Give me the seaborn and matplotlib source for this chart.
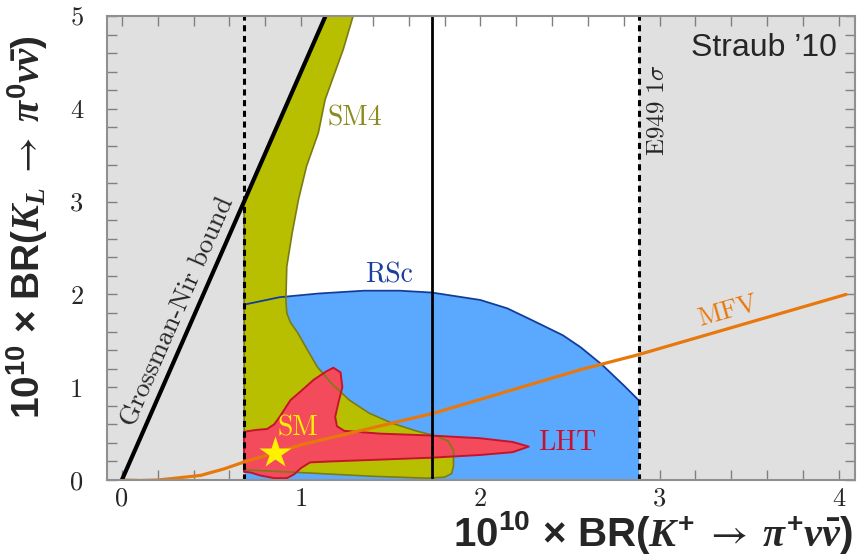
import numpy as np
import matplotlib
matplotlib.use("Agg")
import matplotlib.pyplot as plt
from matplotlib.ticker import MultipleLocator
import seaborn as sns

# experimental bounds / central value (units of 1e-10)
e949_low, e949_central, e949_high = 0.682, 1.73, 2.883
gn_slope = 4.4
gn_x = [0.0, 1.136]
gn_y = [0.0, 5.0]

# SM4 region outline
sm4_x = [0.682, 0.682, 1.136, 1.29, 1.235, 1.134, 1.096, 1.03, 0.985, 0.95, 0.92, 0.915,
         0.92, 0.94, 0.98, 1.03, 1.09, 1.17, 1.27, 1.38, 1.51, 1.64, 1.76, 1.82, 1.85,
         1.85, 1.84, 1.80, 1.70, 1.40, 1.00, 0.682]
sm4_y = [0.11, 3.0, 5.0, 5.0, 4.64, 4.1, 3.74, 3.38, 3.02, 2.66, 2.30, 1.94,
         1.80, 1.70, 1.59, 1.42, 1.22, 1.04, 0.86, 0.72, 0.61, 0.53, 0.47, 0.42, 0.32,
         0.15, 0.07, 0.03, 0.02, 0.04, 0.08, 0.11]

# RSc region upper edge
rsc_x = [0.682, 0.88, 1.10, 1.35, 1.55, 1.73, 2.00, 2.15, 2.28, 2.46, 2.56, 2.68, 2.80, 2.883]
rsc_y = [1.89, 1.97, 2.01, 2.04, 2.04, 2.02, 1.94, 1.85, 1.73, 1.56, 1.43, 1.24, 1.02, 0.86]

# LHT region outline
lht_x = [0.682, 0.682, 0.75, 0.81, 0.85, 0.88, 0.94, 1.00, 1.07, 1.14, 1.18, 1.22, 1.23,
         1.21, 1.19, 1.20, 1.24, 1.44, 1.72, 2.00, 2.18, 2.27, 2.18, 2.00, 1.72, 1.44,
         1.16, 1.05, 1.00, 0.96, 0.92, 0.85, 0.77, 0.72]
lht_y = [0.09, 0.52, 0.54, 0.55, 0.60, 0.68, 0.86, 0.96, 1.08, 1.17, 1.21, 1.16, 1.00,
         0.85, 0.68, 0.58, 0.53, 0.50, 0.48, 0.45, 0.41, 0.36, 0.30, 0.27, 0.24, 0.22,
         0.20, 0.19, 0.13, 0.06, 0.02, 0.02, 0.05, 0.08]

# MFV curve
mfv_x = [0.0, 0.1, 0.2, 0.3, 0.44, 0.57, 0.69, 0.85, 1.0, 1.74, 2.56, 2.88, 4.04]
mfv_y = [0.0, -0.005, 0.0, 0.02, 0.05, 0.12, 0.20, 0.29, 0.38, 0.72, 1.19, 1.35, 2.0]

# Standard Model point
sm_x = [0.855]
sm_y = [0.29]

x_ticks = [0, 1, 2, 3, 4]
y_ticks = [0, 1, 2, 3, 4, 5]

sns.set_style("ticks")
plt.rcParams['mathtext.fontset'] = 'custom'
plt.rcParams['mathtext.rm'] = 'Liberation Sans:bold'
plt.rcParams['mathtext.bf'] = 'Liberation Sans:bold'
plt.rcParams['mathtext.it'] = 'Liberation Serif:bold:italic'
plt.rcParams['mathtext.sf'] = 'STIXGeneral'

fig = plt.figure(figsize=(8.58, 5.55), dpi=100)
ax = fig.add_axes([0.1247, 0.1351, 0.8718, 0.836])
xmin, xmax = -0.083, 4.09
ax.set_xlim(xmin, xmax)
ax.set_ylim(0, 5)

gray = '#e0e0e0'
ax.axvspan(xmin, e949_low, color=gray, lw=0, zorder=0)
ax.axvspan(e949_high, xmax, color=gray, lw=0, zorder=0)
ax.fill_between([e949_low, gn_x[1]], [e949_low * gn_slope, gn_y[1]], 5, color=gray, lw=0, zorder=0)

# regions
ax.fill_between(rsc_x, 0, rsc_y, color='#5aa9ff', lw=0, zorder=1)
ax.fill(sm4_x, sm4_y, facecolor='#b8bf00', edgecolor='none', zorder=2)
ax.fill(lht_x, lht_y, facecolor='#f44b5c', edgecolor='none', zorder=3)
ax.plot(rsc_x, rsc_y, color='#123c9c', lw=1.3, zorder=4)
ax.plot(sm4_x, sm4_y, color='#7b7b14', lw=1.2, zorder=4)
ax.plot(lht_x + lht_x[:1], lht_y + lht_y[:1], color='#c4142c', lw=1.4, zorder=4)

sns.lineplot(x=mfv_x, y=mfv_y, color='#e8780c', lw=2.3, sort=False, estimator=None, ax=ax, zorder=5)
sns.lineplot(x=gn_x, y=gn_y, color='black', lw=3, sort=False, estimator=None, ax=ax, zorder=6)

ax.axvline(e949_low, color='black', ls=(0, (2.0, 1.5)), lw=2.2, zorder=6)
ax.axvline(e949_high, color='black', ls=(0, (2.0, 1.5)), lw=2.2, zorder=6)
ax.axvline(e949_central, color='black', lw=2, zorder=6)

ax.plot(sm_x, sm_y, marker='*', ms=24, color='#fff200', mec='none', ls='none', zorder=8)

# labels in the plot
serif = 'cmr10'
ax.text(1.145, 3.9, 'SM4', color='#8b8b1e', fontsize=20, fontfamily=serif, ha='left', va='center')
ax.text(1.488, 2.21, 'RSc', color='#1a3f9c', fontsize=20, fontfamily=serif, ha='center', va='center')
ax.text(2.32, 0.40, 'LHT', color='#c8102e', fontsize=20, fontfamily=serif, ha='left', va='center')
ax.text(0.984, 0.56, 'SM', color='#fff200', fontsize=20, fontfamily=serif, ha='center', va='center', zorder=9)
ax.text(3.38, 1.83, 'MFV', color='#e8780c', fontsize=19, fontfamily=serif, ha='center', va='center',
        rotation=np.degrees(np.arctan(0.55)), transform_rotates_text=True, rotation_mode='anchor')
ax.text(2.99, 3.99, r'E949 $1\sigma$', fontsize=18, fontfamily=serif, math_fontfamily='cm',
        rotation=90, ha='center', va='center')
ax.text(0.315, 1.81, 'Grossman-Nir bound', fontsize=19.5, fontfamily=serif, ha='center', va='center',
        rotation=np.degrees(np.arctan(gn_slope)), transform_rotates_text=True, rotation_mode='anchor')
ax.text(0.976, 0.931, 'Straub \u201910', transform=ax.transAxes, fontsize=23,
        fontfamily='Liberation Sans', ha='right', va='center', zorder=9)

# axes styling
ax.set_xticks(x_ticks)
ax.set_xticklabels([str(t) for t in x_ticks], fontfamily=serif, fontsize=19)
ax.set_yticks(y_ticks)
ax.set_yticklabels([str(t) for t in y_ticks], fontfamily=serif, fontsize=19)
ax.xaxis.set_minor_locator(MultipleLocator(0.2))
ax.yaxis.set_minor_locator(MultipleLocator(0.2))
ax.tick_params(which='both', direction='in', top=True, right=True, length=7, width=1, color='#808080')
ax.tick_params(axis='x', which='major', pad=5)
ax.tick_params(axis='y', which='major', pad=17)
for s in ax.spines.values():
    s.set_color('#909090')
    s.set_linewidth(1.5)
    s.set_zorder(10)

ax.set_xlabel(r'$\mathbf{10^{10}\,\times\,BR(}K^{+}\;\mathsf{\rightarrow}\;\pi^{+}\nu\bar{\nu}\mathbf{)}$',
              fontsize=29, ha='right')
ax.set_ylabel(r'$\mathbf{10^{10}\,\times\,BR(}K_{L}\;\mathsf{\rightarrow}\;\pi^{0}\nu\bar{\nu}\mathbf{)}$',
              fontsize=28)
ax.xaxis.set_label_coords(0.9965, -0.062)
ax.yaxis.set_label_coords(-0.076, 0.545)

fig.savefig('out.png', dpi=100)
